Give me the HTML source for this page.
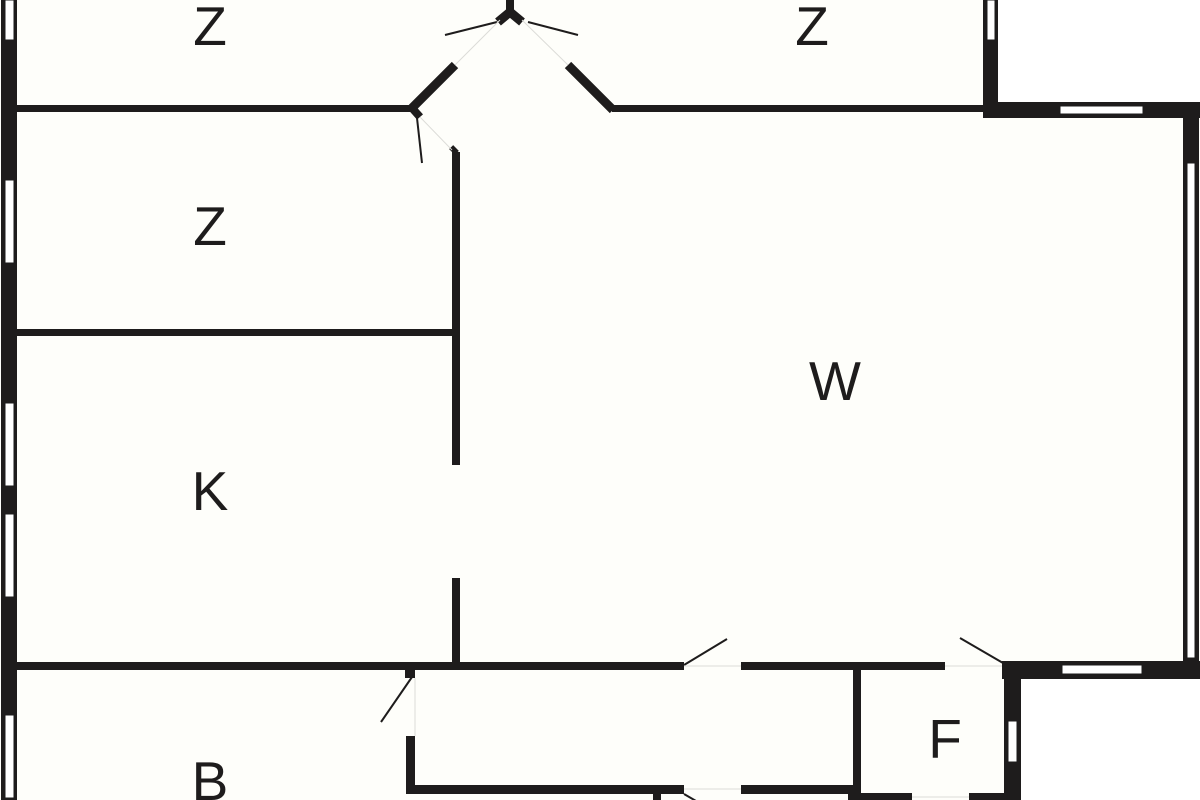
<!DOCTYPE html>
<html><head><meta charset="utf-8"><style>
html,body{margin:0;padding:0;background:#fefefa;}
svg{display:block;}
text{font-family:"Liberation Sans",sans-serif;font-size:55px;fill:#1e1c1c;text-anchor:middle;}
</style></head><body>
<svg width="1200" height="800" viewBox="0 0 1200 800" xmlns="http://www.w3.org/2000/svg">
<rect width="1200" height="800" fill="#fefefa"/>
<rect x="998" y="0" width="202" height="103" fill="#ffffff"/>
<rect x="1020" y="679" width="180" height="121" fill="#ffffff"/>
<g fill="#1e1c1c">
<rect x="1" y="0" width="16" height="800"/>
<rect x="17" y="105" width="395" height="7"/>
<rect x="17" y="329" width="438" height="7"/>
<rect x="17" y="662" width="667" height="8"/>
<rect x="741" y="662" width="204" height="8"/>
<rect x="452" y="152" width="8" height="313"/>
<rect x="452" y="578" width="8" height="88"/>
<rect x="983" y="0" width="15" height="118"/>
<rect x="983" y="102" width="217" height="16"/>
<rect x="1183" y="102" width="16" height="577"/>
<rect x="1002" y="661" width="198" height="18"/>
<rect x="1004" y="661" width="17" height="139"/>
<rect x="612" y="105" width="372" height="7"/>
<rect x="506" y="0" width="8" height="14"/>
<rect x="853" y="668" width="8" height="132"/>
<rect x="406" y="785" width="278" height="9"/>
<rect x="741" y="785" width="112" height="9"/>
<rect x="406" y="736" width="9" height="58"/>
<rect x="405" y="666" width="10" height="12"/>
<rect x="653" y="794" width="8" height="6"/>
<rect x="848" y="793" width="64" height="7"/>
<rect x="969" y="793" width="35" height="7"/>
</g>
<g stroke="#1e1c1c" fill="none" stroke-linecap="butt">
<path d="M455 65 L412 108" stroke-width="9"/>
<path d="M568 65 L613 110" stroke-width="9"/>
<path d="M498 22 L510 12 L522 22" stroke-width="9"/>
<path d="M412 108 L420 117" stroke-width="8"/>
<path d="M452 152 L456 148" stroke-width="8"/>
<path d="M445 35 L497 22 M528 22 L578 35 M417 118 L422 163 M684 665 L727 639 M960 638 L1003 663 M412 677 L381 722 M684 794 L715 812" stroke-width="2"/>
</g>
<g stroke="#dcdcd8" stroke-width="1" fill="none">
<path d="M455 65 L500 20 M568 65 L522 20 M420 117 L452 150 M684 666 L741 666 M945 666 L1002 666 M415 678 L415 736 M684 789 L741 789 M912 797 L969 797"/>
</g>
<g fill="#ffffff" stroke="#1e1c1c" stroke-width="1">
<rect x="5" y="0" width="9" height="40"/>
<rect x="5" y="180" width="9" height="83"/>
<rect x="5" y="403" width="9" height="83"/>
<rect x="5" y="514" width="9" height="83"/>
<rect x="5" y="715" width="9" height="83"/>
<rect x="987" y="0" width="8" height="40"/>
<rect x="1060" y="106" width="83" height="8"/>
<rect x="1187" y="163" width="8" height="495"/>
<rect x="1062" y="665" width="80" height="9"/>
<rect x="1008" y="721" width="9" height="41"/>
</g>
<text x="210" y="45">Z</text>
<text x="812" y="45">Z</text>
<text x="210" y="245">Z</text>
<text x="835" y="400">W</text>
<text x="210" y="510">K</text>
<text x="945" y="758">F</text>
<text x="210" y="800">B</text>
</svg>
</body></html>
